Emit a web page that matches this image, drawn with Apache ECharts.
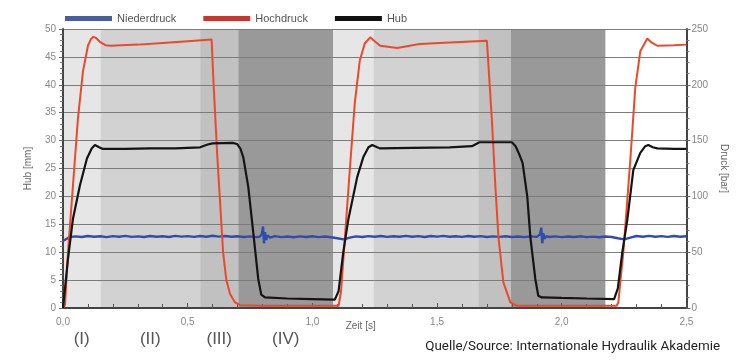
<!DOCTYPE html>
<html>
<head>
<meta charset="utf-8">
<script src="https://cdn.jsdelivr.net/npm/echarts@6/dist/echarts.min.js"></script>
<style>
html,body{margin:0;padding:0;background:#fff}
#charts{width:737px;height:360px}
</style>
</head>
<body>
<div id="charts"></div>
<script>
// Zeit [s] / Wert
var hub = [
	[0,0],[0.008,0.3],[0.02,8.8],[0.04,16],[0.068,22],[0.096,26.8],[0.115,28.6],[0.128,29.2],[0.145,28.8],[0.16,28.5],
	[0.25,28.5],[0.35,28.6],[0.45,28.6],[0.55,28.8],[0.58,29.3],[0.6,29.5],[0.68,29.6],[0.698,29.4],[0.712,28.5],
	[0.723,27],[0.743,21.7],[0.763,13.5],[0.783,5.2],[0.795,2.4],[0.81,1.9],[0.9,1.7],[1.0,1.6],[1.09,1.5],
	[1.105,3],[1.124,10],[1.144,15.8],[1.18,23.5],[1.204,27],[1.225,28.8],[1.24,29.2],[1.26,28.8],[1.272,28.6],
	[1.4,28.7],[1.55,28.8],[1.64,29],[1.67,29.7],[1.8,29.7],[1.815,29],[1.83,27.5],[1.843,26],[1.862,19.9],
	[1.874,12.8],[1.894,5.2],[1.906,2.2],[1.92,1.9],[2.0,1.8],[2.1,1.7],[2.21,1.6],[2.225,3.5],[2.243,10],
	[2.263,15.8],[2.287,24.7],[2.315,27.8],[2.335,29],[2.347,29.2],[2.365,28.8],[2.383,28.6],[2.45,28.5],[2.5,28.5]
];
var hochdruck = [
	[0,0],[0.008,2.5],[0.02,50],[0.04,110],[0.06,170],[0.08,212],[0.1,235],[0.112,241],[0.122,243],[0.132,242],
	[0.148,238.5],[0.17,235.5],[0.19,235],[0.3,236],[0.4,237.5],[0.5,239],[0.596,240.5],[0.604,200],[0.618,139],
	[0.63,94.5],[0.642,50],[0.655,25],[0.67,12.5],[0.69,5],[0.71,2.5],[0.8,2],[1.0,2],[1.105,2],[1.115,15],
	[1.13,61.5],[1.15,123.5],[1.17,183.5],[1.19,221.5],[1.21,237],[1.232,242.5],[1.25,239],[1.272,235],[1.34,233],
	[1.43,236.5],[1.55,238],[1.7,239.5],[1.707,238],[1.72,168],[1.734,108.5],[1.746,64],[1.766,23],[1.794,5],
	[1.82,2],[2.0,2],[2.22,2],[2.227,5],[2.247,50],[2.275,132.5],[2.295,197.5],[2.315,230],[2.343,241.5],
	[2.36,238],[2.383,235],[2.45,235.5],[2.5,236]
];
var niederdruck = [
	[0,60],[0.015,62],[0.025,63.5],[0.05,64.2],[0.075,63.6],[0.1,64.5],[0.125,63.8],[0.15,64.3],[0.175,63.5],
	[0.2,64.4],[0.225,63.9],[0.25,64.6],[0.275,63.7],[0.3,64.2],[0.325,63.6],[0.35,64.5],[0.375,63.9],[0.4,64.3],
	[0.425,63.6],[0.45,64.6],[0.475,64],[0.5,64.4],[0.525,63.7],[0.55,64.5],[0.575,63.9],[0.6,64.7],[0.625,64],
	[0.65,64.5],[0.675,63.8],[0.7,64.3],[0.725,63.6],[0.75,64.2],[0.775,63.5],[0.79,64],[0.797,66],[0.802,73],
	[0.806,58],[0.81,68],[0.815,61],[0.82,65],[0.83,63],[0.85,64.4],[0.875,63.5],[0.9,64.1],[0.925,63.4],
	[0.95,64.2],[0.975,63.6],[1.0,64.3],[1.025,63.5],[1.05,64.1],[1.075,63.4],[1.1,62.5],[1.125,61.5],[1.15,63],
	[1.175,64.2],[1.2,63.6],[1.225,64.4],[1.25,63.8],[1.275,64.5],[1.3,63.7],[1.325,64.3],[1.35,63.9],[1.375,64.6],
	[1.4,63.8],[1.425,64.4],[1.45,63.6],[1.475,64.5],[1.5,64],[1.525,64.6],[1.55,63.8],[1.575,64.3],[1.6,63.7],
	[1.625,64.5],[1.65,63.9],[1.675,64.4],[1.7,63.6],[1.725,64.2],[1.75,63.7],[1.775,64.3],[1.8,63.6],[1.825,64.1],
	[1.85,63.5],[1.875,64.2],[1.9,63.7],[1.908,64.2],[1.913,66],[1.918,72],[1.922,58],[1.926,67],[1.931,62],
	[1.94,64.5],[1.95,63.6],[1.975,64.2],[2.0,63.5],[2.025,64.1],[2.05,63.6],[2.075,64.3],[2.1,63.5],[2.125,64],
	[2.15,63.4],[2.175,64.1],[2.2,63.6],[2.225,62.5],[2.25,61.5],[2.275,63],[2.3,64.5],[2.325,63.8],[2.35,64.6],
	[2.375,63.9],[2.4,64.4],[2.425,63.7],[2.45,64.5],[2.475,63.9],[2.5,64.3]
];
// Phasen: Beginn, Ende, Phase
var phases = [
	[0,0.15,'I'],[0.15,0.55,'II'],[0.55,0.703,'III'],[0.703,1.084,'IV'],
	[1.084,1.245,'I'],[1.245,1.665,'II'],[1.665,1.795,'III'],[1.795,2.175,'IV']
];
var phaseLabels = ['(I)','(II)','(III)','(IV)'];

var phaseColor = {I:'#e6e6e6', II:'#d2d2d2', III:'#c1c1c1', IV:'#999999'};
var font = 'Liberation Sans';

var areas = [];
for(var i=0;i<phases.length;i++){
	areas.push([{xAxis:phases[i][0], itemStyle:{color:phaseColor[phases[i][2]]}},{xAxis:phases[i][1]}]);
}

var charts = echarts.init(document.getElementById('charts'));
var option = {
	animation:false,
	textStyle:{fontFamily:font},
	legend:{
		left:60, top:8,
		icon:'rect', itemWidth:47, itemHeight:5, itemGap:27,
		textStyle:{fontSize:11, color:'#555', fontFamily:font},
		data:[
			{name:'Niederdruck', itemStyle:{color:'#4a5e9e'}},
			{name:'Hochdruck', itemStyle:{color:'#c8372d'}},
			{name:'Hub', itemStyle:{color:'#111'}}
		]
	},
	grid:{left:63, right:50, top:29, bottom:52},
	xAxis:{
		type:'value', min:0, max:2.5, interval:0.5,
		name:'Zeit [s]', nameLocation:'middle', nameGap:13, nameMoveOverlap:false,
		nameTextStyle:{fontSize:10, color:'#666', padding:[0,28,0,0]},
		axisLine:{lineStyle:{color:'#444', width:2}},
		axisTick:{inside:true, length:5, lineStyle:{color:'#555'}},
		minorTick:{show:true, splitNumber:5, length:4, lineStyle:{color:'#555'}},
		splitLine:{show:false},
		axisLabel:{fontSize:10, color:'#888', margin:9, formatter:function(v){return v.toFixed(1).replace('.',',');}},
		z:3
	},
	yAxis:[{
		type:'value', min:0, max:50, interval:5, position:'left',
		name:'Hub [mm]', nameLocation:'middle', nameGap:30,
		nameTextStyle:{fontSize:10, color:'#666'},
		axisLine:{show:true, lineStyle:{color:'#444', width:2}},
		axisTick:{show:true, length:4, lineStyle:{color:'#666'}},
		minorTick:{show:true, splitNumber:5, length:3, lineStyle:{color:'#777'}},
		splitLine:{show:true, lineStyle:{color:'#7c7c7c', width:1}},
		axisLabel:{fontSize:10, color:'#888', margin:7},
		z:3
	},{
		type:'value', min:0, max:250, interval:50, position:'right',
		name:'Druck [bar]', nameLocation:'middle', nameGap:31, nameRotate:-90,
		nameTextStyle:{fontSize:10, color:'#666'},
		axisLine:{show:true, lineStyle:{color:'#444', width:2}},
		axisTick:{show:true, length:4, lineStyle:{color:'#666'}},
		minorTick:{show:true, splitNumber:5, length:3, lineStyle:{color:'#777'}},
		splitLine:{show:false},
		axisLabel:{fontSize:10, color:'#888', margin:5},
		z:3
	}],
	series:[{
		name:'bands', type:'line', data:[[0,0],[2.5,0]], symbol:'none',
		lineStyle:{opacity:0}, silent:true, z:1,
		markArea:{silent:true, data:areas}
	},{
		name:'Niederdruck', type:'line', yAxisIndex:1, data:niederdruck,
		symbol:'none', color:'#2f4db0', lineStyle:{width:2.4}, z:5
	},{
		name:'Hochdruck', type:'line', yAxisIndex:1, data:hochdruck,
		symbol:'none', color:'#ea4a2c', lineStyle:{width:2}, z:5
	},{
		name:'Hub', type:'line', yAxisIndex:0, data:hub,
		symbol:'none', color:'#141414', lineStyle:{width:2.2}, z:6
	}]
};
charts.setOption(option);

// Phasenbeschriftung unter der Achse (erster Zyklus)
var graphics = [];
for(var i=0;i<4;i++){
	var px = charts.convertToPixel({xAxisIndex:0}, (phases[i][0]+phases[i][1])/2);
	graphics.push({type:'text', x:px, y:339, style:{text:phaseLabels[i], fill:'#555', font:'17px "Liberation Sans"', align:'center', verticalAlign:'middle'}});
}
graphics.push({type:'text', right:17, y:340, style:{text:'Quelle/Source: Internationale Hydraulik Akademie', fill:'#222', font:'13.4px Roboto'}});
charts.setOption({graphic:graphics});
</script>
</body>
</html>
